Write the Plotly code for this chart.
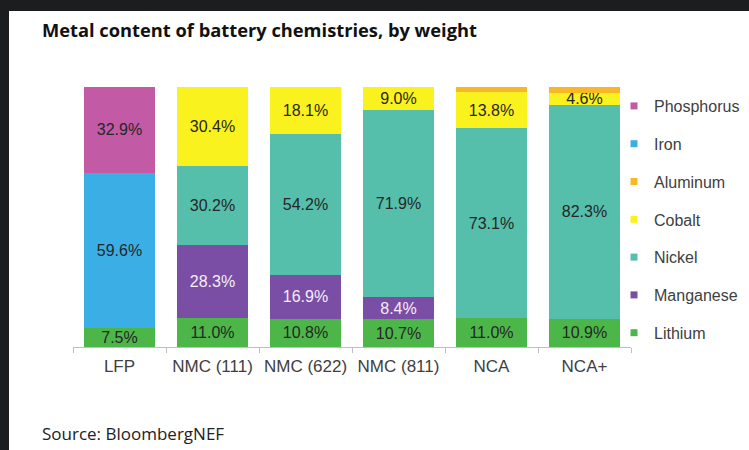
import plotly.graph_objects as go

categories = ["LFP", "NMC (111)", "NMC (622)", "NMC (811)", "NCA", "NCA+"]
lithium = [7.5, 11.0, 10.8, 10.7, 11.0, 10.9]
manganese = [None, 28.3, 16.9, 8.4, None, None]
nickel = [None, 30.2, 54.2, 71.9, 73.1, 82.3]
cobalt = [None, 30.4, 18.1, 9.0, 13.8, 4.6]
aluminum = [None, None, None, None, 2.1, 2.2]
iron = [59.6, None, None, None, None, None]
phosphorus = [32.9, None, None, None, None, None]

series = [
    ("Lithium", lithium, "#4cb649", "#262626", True),
    ("Manganese", manganese, "#7a4ea5", "#f4eff8", True),
    ("Nickel", nickel, "#55bfab", "#262626", True),
    ("Cobalt", cobalt, "#faf21e", "#262626", True),
    ("Aluminum", aluminum, "#f7b726", "#262626", False),
    ("Iron", iron, "#3caee6", "#262626", True),
    ("Phosphorus", phosphorus, "#c25aa6", "#262626", True),
]

LBL = "Liberation Sans, Arial, sans-serif"
fig = go.Figure()
n = len(series)
for i, (name, vals, color, tcolor, labelled) in enumerate(series):
    texts = [(f"{v:.1f}%" if (v is not None and labelled) else "") for v in vals]
    fig.add_trace(go.Bar(
        x=categories, y=vals, name=name, marker=dict(color=color, line=dict(width=0)),
        text=texts, textposition="inside", insidetextanchor="middle", textangle=0,
        constraintext="none", cliponaxis=False,
        textfont=dict(family=LBL, size=16, color=tcolor),
        showlegend=False, legendgroup=name, hoverinfo="x+y+name",
    ))
    fig.add_trace(go.Scatter(
        x=[None], y=[None], mode="markers", name=name, legendgroup=name,
        marker=dict(symbol="square", size=7, color=color),
        showlegend=True, legendrank=n - i, hoverinfo="skip",
    ))

W, H = 749, 450
L, R, T, B = 73, 118, 87, 103
pw, ph = W - L - R, H - T - B

def px(x):
    return (x - L) / pw

def py(y):
    return (H - B - y) / ph

dark = "#1c1d1f"
shapes = [
    dict(type="rect", xref="paper", yref="paper", x0=px(0), x1=px(W), y0=py(11), y1=py(0),
         fillcolor=dark, line=dict(width=0), layer="above"),
    dict(type="rect", xref="paper", yref="paper", x0=px(0), x1=px(9), y0=py(H), y1=py(0),
         fillcolor=dark, line=dict(width=0), layer="above"),
]

fig.update_layout(
    width=W, height=H,
    margin=dict(l=L, r=R, t=T, b=B, autoexpand=False),
    paper_bgcolor="white", plot_bgcolor="white",
    barmode="stack", bargap=0.237,
    uniformtext=dict(minsize=16, mode="show"),
    title=dict(text="<b>Metal content of battery chemistries, by weight</b>",
               x=42 / W, xanchor="left", y=1 - 31 / H, yanchor="middle",
               font=dict(family="Open Sans, sans-serif", size=18.3, color="#111111")),
    xaxis=dict(type="category", showline=True, linecolor="#bfbfbf", linewidth=1,
               ticks="outside", tickson="boundaries", ticklen=5, tickcolor="#bfbfbf",
               ticklabelstandoff=4, tickangle=0,
               tickfont=dict(family=LBL, size=17, color="#404040"), showgrid=False,
               zeroline=False, fixedrange=True),
    yaxis=dict(range=[0, 100], visible=False, fixedrange=True),
    legend=dict(x=px(614), xanchor="left", y=py(89), yanchor="top",
                font=dict(family=LBL, size=16, color="#404040"), maxheight=420,
                tracegroupgap=14, bgcolor="rgba(0,0,0,0)", traceorder="grouped"),
    shapes=shapes,
    annotations=[dict(text="Source: BloombergNEF", xref="paper", yref="paper",
                      x=px(40), xanchor="left", y=py(433), yanchor="middle", showarrow=False,
                      font=dict(family="Open Sans, sans-serif", size=17, color="#222222"))],
)

fig.write_html("out.html", config={"displayModeBar": False},
               post_script="document.body.style.margin='0';")
